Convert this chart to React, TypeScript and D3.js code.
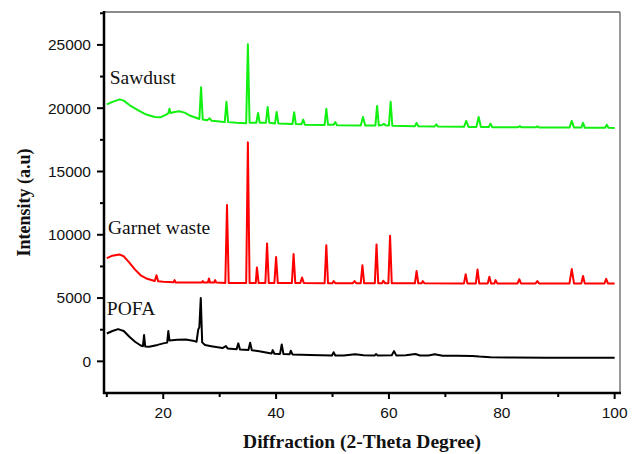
import React from "react";
import * as d3 from "d3";

// 2-theta (deg), intensity (a.u) pairs
const sawdust: [number, number][] = [
  [10, 20300], [11, 20500], [12.3, 20700], [13, 20600], [14, 20250], [15.5, 19850],
  [17, 19500], [18.5, 19300], [19.5, 19280], [20.5, 19500], [20.9, 19600], [21.1, 19950],
  [21.3, 19620], [22, 19700], [22.8, 19760], [23.8, 19650], [24.8, 19400], [25.8, 19250],
  [26.4, 19150], [26.7, 21650], [27.0, 19100], [27.8, 19050], [28.2, 19200], [28.6, 19000],
  [30.0, 18950], [30.9, 18900], [31.2, 20500], [31.5, 18900], [33, 18850], [34.7, 18820],
  [35.0, 25050], [35.3, 18850], [36.5, 18850], [36.8, 19620], [37.1, 18850], [38.2, 18850],
  [38.5, 20100], [38.8, 18850], [39.8, 18800], [40.1, 19700], [40.4, 18800], [42.9, 18750],
  [43.2, 19680], [43.5, 18750], [44.5, 18730], [44.8, 19100], [45.1, 18700], [48.6, 18680],
  [48.9, 19950], [49.2, 18700], [50.2, 18700], [50.5, 18900], [50.8, 18650], [55, 18640],
  [55.4, 19300], [55.8, 18640], [57.6, 18640], [57.9, 20180], [58.2, 18640], [58.8, 18680],
  [59.1, 18760], [59.4, 18660], [60.0, 18640], [60.3, 20500], [60.6, 18620], [64.6, 18580],
  [64.9, 18840], [65.2, 18580], [68.1, 18560], [68.4, 18720], [68.7, 18550], [73.3, 18530],
  [73.7, 19000], [74.1, 18520], [75.5, 18520], [75.9, 19300], [76.3, 18520], [77.7, 18520],
  [78.0, 18780], [78.3, 18500], [82.9, 18500], [83.2, 18580], [83.5, 18490], [86.0, 18490],
  [86.3, 18560], [86.6, 18480], [92.0, 18470], [92.4, 19000], [92.8, 18470], [94.1, 18470],
  [94.4, 18840], [94.7, 18460], [98.3, 18450], [98.6, 18700], [98.9, 18450], [100, 18430],
];

const garnet: [number, number][] = [
  [10, 8150], [11, 8350], [12.2, 8450], [13, 8300], [14, 7800], [15, 7250], [16, 6800],
  [17, 6550], [18.5, 6350], [18.8, 6800], [19.1, 6320], [20, 6280], [21.8, 6240], [22.0, 6420],
  [22.2, 6230], [26.8, 6220], [27.0, 6340], [27.2, 6220], [27.9, 6220], [28.1, 6550],
  [28.3, 6220], [29.0, 6220], [29.2, 6420], [29.4, 6220], [31.0, 6200], [31.3, 12350],
  [31.6, 6200], [34.7, 6200], [35.0, 17300], [35.3, 6200], [36.4, 6200], [36.6, 7420],
  [36.9, 6200], [38.1, 6200], [38.4, 9320], [38.7, 6200], [39.7, 6200], [40.0, 8240],
  [40.3, 6200], [42.8, 6200], [43.1, 8480], [43.4, 6200], [44.3, 6200], [44.6, 6630],
  [44.9, 6200], [48.6, 6180], [48.9, 9180], [49.2, 6180], [50.0, 6180], [50.2, 6340],
  [50.5, 6180], [53.6, 6180], [53.9, 6340], [54.2, 6180], [55.0, 6180], [55.3, 7600],
  [55.6, 6180], [57.5, 6180], [57.8, 9240], [58.1, 6180], [58.8, 6180], [59.0, 6370],
  [59.3, 6180], [59.9, 6180], [60.2, 9920], [60.5, 6170], [64.6, 6170], [64.9, 7130],
  [65.2, 6170], [65.8, 6170], [66.0, 6340], [66.3, 6170], [73.3, 6160], [73.6, 6890],
  [73.9, 6160], [75.4, 6160], [75.7, 7260], [76.0, 6160], [77.5, 6160], [77.8, 6680],
  [78.1, 6160], [78.7, 6160], [78.9, 6420], [79.2, 6160], [82.8, 6160], [83.1, 6490],
  [83.4, 6160], [86.0, 6160], [86.3, 6340], [86.6, 6160], [92.0, 6160], [92.4, 7290],
  [92.8, 6160], [94.1, 6160], [94.4, 6740], [94.7, 6160], [98.2, 6160], [98.5, 6520],
  [98.8, 6160], [100, 6160],
];

const pofa: [number, number][] = [
  [10, 2200], [11, 2400], [12, 2550], [13, 2400], [14, 1950], [15, 1550], [16, 1250],
  [16.4, 1200], [16.6, 2080], [16.8, 1180], [17.5, 1150], [19, 1300], [20, 1420], [20.7, 1480],
  [20.9, 2390], [21.1, 1650], [22.5, 1700], [24, 1720], [25.5, 1600], [25.9, 1550],
  [26.2, 2500], [26.4, 2700], [26.65, 5000], [26.9, 1500], [27.4, 1290], [28.5, 1200],
  [30.5, 1050], [31.1, 1210], [31.4, 1020], [33.0, 950], [33.3, 1420], [33.6, 930],
  [35.1, 900], [35.4, 1470], [35.7, 880], [37, 800], [39.2, 620], [39.4, 890], [39.7, 600],
  [40.7, 590], [41.0, 1340], [41.3, 580], [42.4, 560], [42.6, 840], [42.9, 550], [46, 500],
  [49.9, 470], [50.2, 720], [50.5, 470], [52, 470], [54, 560], [55.5, 480], [57.5, 470],
  [57.7, 580], [58, 470], [60.5, 480], [60.9, 810], [61.3, 470], [63, 480], [64.7, 580],
  [65.5, 460], [67, 470], [68.1, 560], [69.5, 450], [72, 440], [74.8, 430], [76, 380],
  [78, 330], [82, 300], [88, 280], [95, 280], [100, 290],
];

const seriesNames = ["Sawdust", "Garnet waste", "POFA"];
const seriesColors = ["#11f011", "#ff0000", "#000000"];
const xMajorTicks = [20, 40, 60, 80, 100];
const xMinorTicks = [10, 30, 50, 70, 90];
const yMajorTicks = [0, 5000, 10000, 15000, 20000, 25000];
const yMinorTicks = [2500, 7500, 12500, 17500, 22500, 27500];

const W = 639;
const H = 454;
const left = 104;
const right = 620;
const top = 12;
const bottom = 393;

export default function App() {
  const x = d3.scaleLinear().domain([9.5, 100.95]).range([left, right]);
  const y = d3.scaleLinear().domain([-2500, 27600]).range([bottom, top]);
  const line = d3
    .line<[number, number]>()
    .x((d) => x(d[0]))
    .y((d) => y(d[1]));

  const series = [sawdust, garnet, pofa];
  // label anchors in data units (x, y)
  const labelPos: [number, number][] = [[10.5, 21900], [10.2, 10050], [10, 3650]];

  return (
    <svg
      width={W}
      height={H}
      style={{ position: "absolute", left: 0, top: 0, background: "#fff" }}
    >
      {series.map((s, i) => (
        <path
          key={seriesNames[i]}
          d={line(s) || ""}
          fill="none"
          stroke={seriesColors[i]}
          strokeWidth={2}
          strokeLinejoin="round"
        />
      ))}

      {seriesNames.map((n, i) => (
        <text
          key={n}
          x={x(labelPos[i][0])}
          y={y(labelPos[i][1])}
          fontFamily="'Liberation Serif', serif"
          fontSize={19.5}
          fill="#111"
        >
          {n}
        </text>
      ))}

      {/* frame */}
      <line x1={left} x2={right} y1={top} y2={top} stroke="#666" strokeWidth={1.5} />
      <line x1={right} x2={right} y1={top} y2={bottom} stroke="#777" strokeWidth={1.5} />
      <line x1={left} x2={left} y1={top - 1} y2={bottom + 1} stroke="#000" strokeWidth={2.5} />
      <line x1={left - 1} x2={right + 1} y1={bottom} y2={bottom} stroke="#000" strokeWidth={2.5} />

      {/* y ticks */}
      {yMajorTicks.map((t) => (
        <g key={t}>
          <line x1={left - 7} x2={left} y1={y(t)} y2={y(t)} stroke="#000" strokeWidth={2} />
          <text
            x={left - 13}
            y={y(t)}
            dy="0.35em"
            textAnchor="end"
            fontFamily="'Liberation Sans', Arial, sans-serif"
            fontSize={15.5}
            fill="#111"
          >
            {t}
          </text>
        </g>
      ))}
      {yMinorTicks.map((t) => (
        <line key={t} x1={left - 4} x2={left} y1={y(t)} y2={y(t)} stroke="#000" strokeWidth={2} />
      ))}

      {/* x ticks */}
      {xMajorTicks.map((t) => (
        <g key={t}>
          <line x1={x(t)} x2={x(t)} y1={bottom} y2={bottom + 6} stroke="#000" strokeWidth={2} />
          <text
            x={x(t)}
            y={418}
            textAnchor="middle"
            fontFamily="'Liberation Sans', Arial, sans-serif"
            fontSize={15.5}
            fill="#111"
          >
            {t}
          </text>
        </g>
      ))}
      {xMinorTicks.map((t) => (
        <line key={t} x1={x(t)} x2={x(t)} y1={bottom} y2={bottom + 4} stroke="#000" strokeWidth={2} />
      ))}

      {/* axis titles */}
      <text
        x={362}
        y={448}
        textAnchor="middle"
        fontFamily="'Liberation Serif', serif"
        fontWeight="bold"
        fontSize={19.5}
        fill="#111"
      >
        Diffraction (2-Theta Degree)
      </text>
      <text
        transform={`translate(30,${(top + bottom) / 2}) rotate(-90)`}
        textAnchor="middle"
        fontFamily="'Liberation Serif', serif"
        fontWeight="bold"
        fontSize={18}
        fill="#111"
      >
        Intensity (a.u)
      </text>
    </svg>
  );
}
